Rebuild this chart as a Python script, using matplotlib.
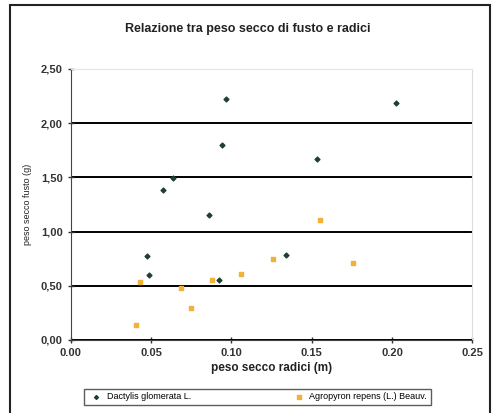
import matplotlib
matplotlib.use("Agg")
import matplotlib.pyplot as plt
from matplotlib.patches import Rectangle
from matplotlib.ticker import FuncFormatter

plt.rcParams['font.family'] = ['Liberation Sans', 'DejaVu Sans']

# Dactylis glomerata L.
dact_x = [0.0965, 0.2024, 0.094, 0.153, 0.0635, 0.0575, 0.086, 0.0473, 0.134, 0.0486, 0.0925]
dact_y = [2.22, 2.19, 1.80, 1.67, 1.49, 1.38, 1.15, 0.77, 0.78, 0.60, 0.55]

# Agropyron repens (L.) Beauv.
agro_x = [0.155, 0.176, 0.126, 0.106, 0.088, 0.043, 0.0685, 0.075, 0.0405]
agro_y = [1.11, 0.71, 0.75, 0.61, 0.55, 0.53, 0.48, 0.29, 0.14]

fig = plt.figure(figsize=(4.96, 4.13), dpi=100)
ax = fig.add_axes([0.143, 0.177, 0.809, 0.656])

ax.scatter(dact_x, dact_y, marker='D', s=6, color='#1f3f33', label='Dactylis glomerata L.', zorder=3)
ax.scatter(agro_x, agro_y, marker='s', s=9, color='#f2b23a', label='Agropyron repens (L.) Beauv.', zorder=3)

ax.set_xlim(0, 0.25)
ax.set_ylim(0, 2.5)
ax.set_xticks([0, 0.05, 0.10, 0.15, 0.20, 0.25])
ax.set_yticks([0, 0.5, 1.0, 1.5, 2.0, 2.5])
ax.xaxis.set_major_formatter(FuncFormatter(lambda v, p: f"{v:.2f}"))
ax.yaxis.set_major_formatter(FuncFormatter(lambda v, p: f"{v:.2f}".replace('.', ',')))
ax.tick_params(axis='both', direction='inout', length=5, width=1, color='#333333', labelsize=8)
for lab in ax.get_xticklabels() + ax.get_yticklabels():
    lab.set_fontweight('bold')
    lab.set_color('#333333')

ax.yaxis.grid(True, color='black', linewidth=1.4)
ax.set_axisbelow(True)
ax.spines['left'].set_color('#444444')
ax.spines['bottom'].set_color('#444444')
ax.spines['top'].set_color('#e4e4e4')
ax.spines['right'].set_color('#dddddd')

ax.set_xlabel('peso secco radici (m)', fontsize=8.5, fontweight='bold', labelpad=3, color='#222222')
ax.set_ylabel('peso secco fusto (g)', fontsize=6.5, labelpad=6, color='#222222')
fig.text(0.5, 0.93, 'Relazione tra peso secco di fusto e radici', ha='center', va='center',
         fontsize=9, fontweight='bold', color='#222222')

leg = fig.legend(loc='center', bbox_to_anchor=(0.519, 0.039), ncol=2, fontsize=6.5,
                 frameon=True, fancybox=False, edgecolor='#333333', markerscale=0.8,
                 handletextpad=0.3, columnspacing=11, borderpad=0.4, handlelength=1.8,
                 borderaxespad=0)
leg.get_frame().set_linewidth(1.0)

fig.patches.append(Rectangle((0.02, -0.05), 0.968, 1.038, transform=fig.transFigure,
                             fill=False, edgecolor='#222222', linewidth=1.5))

fig.savefig('out.png', dpi=100)
